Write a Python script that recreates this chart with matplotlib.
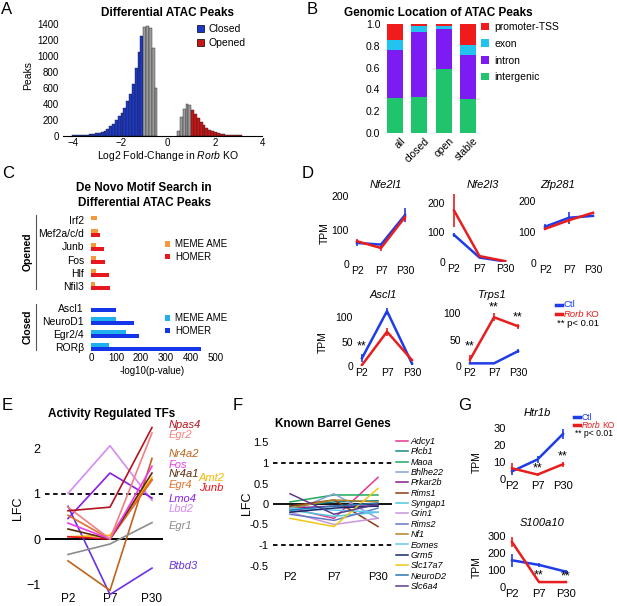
import matplotlib
matplotlib.use('Agg')
import matplotlib.pyplot as plt
from matplotlib.lines import Line2D
from matplotlib.patches import Patch
from matplotlib.transforms import ScaledTranslation
import numpy as np

plt.rcParams['font.family'] = ['Liberation Sans', 'DejaVu Sans']
plt.rcParams['mathtext.fontset'] = 'custom'
plt.rcParams['mathtext.rm'] = 'Liberation Sans'
plt.rcParams['mathtext.it'] = 'Liberation Sans:italic'
plt.rcParams['mathtext.bf'] = 'Liberation Sans:bold'

# ===================== DATA =====================
# A: histogram of log2 fold change
hist_bin = 0.12
closed_start = -4.04
closed_gray_from = -1.04
closed_counts = [2, 3, 4, 6, 8, 11, 15, 20, 26, 34, 46, 62, 85, 115, 150, 190, 240,
                 290, 350, 430, 520, 650, 850, 1050, 1260,
                 1370, 1380, 1350, 1100, 600]
opened_start = 0.40
opened_gray_until = 1.00
opened_counts = [60, 230, 340, 400, 380,
                 320, 270, 215, 170, 130, 100, 75, 55, 40, 28, 20, 14, 10, 7, 5, 3, 2, 1]

# B: genomic location fractions
locations = ['all', 'closed', 'open', 'stable']
frac_intergenic = [0.32, 0.327, 0.59, 0.315]
frac_intron = [0.445, 0.60, 0.367, 0.404]
frac_exon = [0.09, 0.052, 0.028, 0.085]
frac_promoter = [0.145, 0.021, 0.015, 0.196]

# C: motif search, -log10(p)
motifs_opened = ['Irf2', 'Mef2a/c/d', 'Junb', 'Fos', 'Hlf', 'Nfil3']
opened_meme = [24, 28, 21, 21, 21, 17]
opened_homer = [0, 37, 51, 57, 71, 77]
motifs_closed = ['Ascl1', 'NeuroD1', 'Egr2/4', 'RORβ']
closed_meme = [0, 101, 141, 72]
closed_homer = [101, 173, 192, 441]

# D / G: TPM time courses
stages = ['P2', 'P7', 'P30']
nfe2l1_ctl = [62, 57, 144]; nfe2l1_ctl_err = [9, 6, 20]
nfe2l1_ko = [67, 47, 138]; nfe2l1_ko_err = [6, 8, 12]
nfe2l3_ctl = [92, 15, 2]; nfe2l3_ctl_err = [8, 3, 1]
nfe2l3_ko = [175, 20, 3]; nfe2l3_ko_err = [57, 4, 1]
zfp281_ctl = [117, 146, 152]; zfp281_ctl_err = [8, 19, 4]
zfp281_ko = [110, 138, 162]; zfp281_ko_err = [5, 10, 4]
ascl1_ctl = [16, 112, 5]; ascl1_ctl_err = [8, 7, 2]
ascl1_ko = [2, 70, 12]; ascl1_ko_err = [2, 8, 2]
trps1_ctl = [5, 5, 28]; trps1_ctl_err = [1, 1, 4]
trps1_ko = [12, 92, 75]; trps1_ko_err = [8, 8, 5]
htr1b_ctl = [4.5, 11.5, 26.5]; htr1b_ctl_err = [2, 2, 3]
htr1b_ko = [6.3, 2.6, 8.7]; htr1b_ko_err = [3, 1, 1.5]
s100a10_ctl = [157, 130, 90]; s100a10_ctl_err = [40, 10, 12]
s100a10_ko = [265, 29, 29]; s100a10_ko_err = [30, 3, 3]
# significance marks: (stage index, value height)
ascl1_sig = [(0, 40)]
trps1_sig = [(0, 36), (1, 111), (2, 92)]
htr1b_sig = [(1, 6.5), (2, 13)]
s100a10_sig = [(1, 70), (2, 60)]

# E: activity-regulated TFs (LFC at P2, P7, P30)
tf_names = ['Lbd2', 'Lmo4', 'Btbd3', 'Nr4a2', 'Egr1', 'Amt2', 'Junb', 'Egr4',
            'Nr4a1', 'Fos', 'Egr2', 'Npas4']
tf_lfc = [
    [1.00, 2.05, 0.85],
    [0.45, 1.45, 0.90],
    [0.72, -1.22, -0.64],
    [-0.48, -1.13, 1.77],
    [-0.34, -0.11, 0.36],
    [0.05, 0.08, 1.35],
    [0.05, 0.00, 1.30],
    [0.52, 0.00, 1.30],
    [0.22, 0.00, 1.45],
    [0.35, 0.00, 1.60],
    [0.70, 0.00, 2.33],
    [0.62, 0.70, 2.45],
]

# F: known barrel genes (LFC at P2, P7, P30)
barrel_names = ['Adcy1', 'Plcb1', 'Maoa', 'Bhlhe22', 'Prkar2b', 'Rims1', 'Syngap1',
                'Grin1', 'Rims2', 'Nf1', 'Eomes', 'Grm5', 'Slc17a7', 'NeuroD2', 'Slc6a4']
barrel_lfc = [
    [-0.10, -0.35, 0.65],
    [-0.05, 0.05, 0.08],
    [0.05, 0.22, 0.22],
    [-0.20, 0.25, -0.35],
    [-0.10, -0.05, -0.05],
    [-0.05, 0.10, -0.55],
    [-0.15, -0.30, -0.20],
    [-0.20, -0.50, -0.35],
    [-0.25, -0.40, -0.10],
    [-0.10, 0.10, 0.05],
    [-0.10, -0.15, -0.20],
    [-0.20, -0.10, -0.05],
    [-0.35, -0.55, 0.38],
    [-0.15, -0.05, 0.02],
    [0.25, -0.25, 0.00],
]

# ===================== STYLE / LAYOUT =====================
W, H = 617, 606
fig = plt.figure(figsize=(W / 100, H / 100), dpi=100)
renderer = fig.canvas.get_renderer()

BLUE_A, RED_A, GRAY_A = '#1c38c8', '#cc1616', '#9c9c9c'
COL_PROM, COL_EXON, COL_INTRON, COL_INTER = '#f21b1b', '#22c3ee', '#7d1cf2', '#1fc46c'
MEME_O, HOMER_O, MEME_C, HOMER_C = '#f5993a', '#e8161e', '#20b0f0', '#1436e8'
CTL, KO = '#1e3ce8', '#e81e1e'
tf_colors = ['#d68af2', '#8a1ee6', '#6a32e6', '#c0621e', '#8c8c8c', '#f5b800',
             '#e8141e', '#e0722e', '#5a2d0c', '#ee3aee', '#f08080', '#b3131b']
tf_label_y = [0.66, 0.88, -0.59, 1.87, 0.29, 1.33, 1.13, 1.19, 1.43, 1.63, 2.29, 2.51]
tf_label_x = [2.4] * 5 + [3.12, 3.12] + [2.4] * 5
barrel_colors = ['#e8368c', '#168a8a', '#1eaa5a', '#8ca0dc', '#8c1a8c', '#8c3c14',
                 '#50c8dc', '#c896dc', '#6478c8', '#b48228', '#64c8f0', '#14286e',
                 '#f0c814', '#2878b4', '#5a3c8c']


def add_ax(box, xcal, ycal):
    x0, y0, x1, y1 = box
    ax = fig.add_axes([x0 / W, 1 - y1 / H, (x1 - x0) / W, (y1 - y0) / H])
    (va, pa), (vb, pb) = xcal
    s = (vb - va) / (pb - pa)
    ax.set_xlim(va + (x0 - pa) * s, va + (x1 - pa) * s)
    (va, pa), (vb, pb) = ycal
    s = (vb - va) / (pb - pa)
    ax.set_ylim(va + (y1 - pa) * s, va + (y0 - pa) * s)
    for sp in ax.spines.values():
        sp.set_visible(False)
    ax.tick_params(length=0)
    ax.patch.set_alpha(0)
    return ax


def ftext(x, y, s, **kw):
    kw.setdefault('ha', 'center')
    kw.setdefault('va', 'center')
    return fig.text(x / W, 1 - y / H, s, **kw)


def fline(xs, ys, **kw):
    fig.add_artist(Line2D([x / W for x in xs], [1 - y / H for y in ys], **kw))


# panel letters
for lab, (x, y) in {'A': (7, 9), 'B': (312, 9), 'C': (8, 173), 'D': (308, 173),
                    'E': (7, 405), 'F': (238, 405), 'G': (465, 405)}.items():
    ftext(x, y, lab, fontsize=12)

# ---------------- Panel A ----------------
axA = add_ax((63, 20, 262, 135.5), ((-2, 121), (2, 216)), ((0, 135.5), (1400, 24.5)))
cl = closed_start + hist_bin * np.arange(len(closed_counts))
axA.bar(cl, closed_counts, width=hist_bin, align='edge',
        color=[BLUE_A if e < closed_gray_from - 1e-9 else GRAY_A for e in cl],
        edgecolor='#222222', linewidth=0.3)
op = opened_start + hist_bin * np.arange(len(opened_counts))
axA.bar(op, opened_counts, width=hist_bin, align='edge',
        color=[GRAY_A if e < opened_gray_until - 1e-9 else RED_A for e in op],
        edgecolor='#222222', linewidth=0.3)
axA.spines['bottom'].set_visible(True)
axA.spines['bottom'].set_linewidth(0.8)
axA.set_yticks(range(0, 1401, 200))
axA.set_xticks([-4, -2, 0, 2, 4])
axA.tick_params(labelsize=7, pad=3)
axA.tick_params(axis='x', pad=2)
axA.legend(handles=[Patch(facecolor=BLUE_A, edgecolor='k', lw=0.5),
                    Patch(facecolor=RED_A, edgecolor='k', lw=0.5)],
           labels=['Closed', 'Opened'], loc='upper left',
           bbox_to_anchor=(197 / W, 1 - 24 / H), bbox_transform=fig.transFigure,
           frameon=False, fontsize=7.5, handlelength=0.7, handleheight=0.7,
           handletextpad=0.4, labelspacing=0.4, borderpad=0, borderaxespad=0)
ftext(168, 13, 'Differential ATAC Peaks', fontsize=8.5, fontweight='bold')
ftext(168, 156, r'Log2 Fold-Change in $\mathit{Rorb}$ KO', fontsize=7.5)
ftext(28, 75, 'Peaks', fontsize=7.5, rotation=90)

# ---------------- Panel B ----------------
axB = add_ax((383, 24, 480, 133), ((0, 395), (3, 468)), ((0, 133), (1, 24)))
xb = np.arange(len(locations))
bw = 0.66
b1 = axB.bar(xb, frac_intergenic, bw, color=COL_INTER)
bot = np.array(frac_intergenic)
b2 = axB.bar(xb, frac_intron, bw, bottom=bot, color=COL_INTRON)
bot = bot + np.array(frac_intron)
b3 = axB.bar(xb, frac_exon, bw, bottom=bot, color=COL_EXON)
bot = bot + np.array(frac_exon)
b4 = axB.bar(xb, frac_promoter, bw, bottom=bot, color=COL_PROM)
axB.set_yticks([0, 0.2, 0.4, 0.6, 0.8, 1.0])
axB.set_yticklabels(['0.0', '0.2', '0.4', '0.6', '0.8', '1.0'])
axB.set_xticks(xb)
axB.set_xticklabels(locations, rotation=45, ha='right', rotation_mode='anchor')
axB.tick_params(labelsize=7.5, pad=2)
for lbl in axB.get_xticklabels():
    lbl.set_transform(lbl.get_transform() + ScaledTranslation(0.05, 0, fig.dpi_scale_trans))
axB.legend(handles=[b4, b3, b2, b1], labels=['promoter-TSS', 'exon', 'intron', 'intergenic'],
           loc='upper left', bbox_to_anchor=(481 / W, 1 - 22 / H),
           bbox_transform=fig.transFigure, frameon=False, fontsize=7.5,
           handlelength=0.75, handleheight=0.75, handletextpad=0.5,
           labelspacing=0.65, borderpad=0, borderaxespad=0)
ftext(438, 13, 'Genomic Location of ATAC Peaks', fontsize=8.5, fontweight='bold')

# ---------------- Panel C ----------------
axCo = add_ax((91, 212, 220, 292), ((0, 91), (400, 191)), ((0, 220), (5, 286)))
axCc = add_ax((91, 300, 220, 352), ((0, 91), (400, 191)), ((0, 308), (3, 347)))
for ax, names, meme, homer, cm, ch in [(axCo, motifs_opened, opened_meme, opened_homer, MEME_O, HOMER_O),
                                       (axCc, motifs_closed, closed_meme, closed_homer, MEME_C, HOMER_C)]:
    y = np.arange(len(names))
    hm = ax.barh(y - 0.14, meme, height=0.3, color=cm)
    hh = ax.barh(y + 0.17, homer, height=0.3, color=ch)
    ax.set_yticks(y)
    ax.set_yticklabels(names)
    ax.tick_params(labelsize=7.5, pad=5)
    if ax is axCo:
        ax.set_xticks([])
        anchor = 250.5
    else:
        ax.set_xticks(range(0, 501, 100))
        ax.tick_params(axis='x', labelsize=7, pad=1)
        anchor = 324.5
    ax.legend(handles=[hm, hh], labels=['MEME AME', 'HOMER'], loc='center left',
              bbox_to_anchor=(165 / W, 1 - anchor / H), bbox_transform=fig.transFigure,
              frameon=False, fontsize=7, handlelength=0.55, handleheight=0.55,
              handletextpad=0.5, labelspacing=0.3, borderpad=0, borderaxespad=0)
ftext(144, 188, 'De Novo Motif Search in', fontsize=8.5, fontweight='bold')
ftext(144, 203, 'Differential ATAC Peaks', fontsize=8.5, fontweight='bold')
ftext(152, 371, '-log10(p-value)', fontsize=7)
ftext(28, 252, 'Opened', fontsize=7.5, fontweight='bold', rotation=90)
ftext(28, 327, 'Closed', fontsize=7.5, fontweight='bold', rotation=90)
fline([36, 36], [215, 289], color='#555555', lw=0.8)
fline([36, 36], [304, 350], color='#555555', lw=0.8)


# ---------------- Panels D & G (TPM) ----------------
def tpm_panel(box, xcal, ycal, ctl, ctl_e, ko, ko_e, yticks, title, txy, sig=(), ylab=None,
              fs=7.5, lw=1.8):
    ax = add_ax(box, xcal, ycal)
    x = np.arange(len(stages))
    ax.errorbar(x, ctl, yerr=ctl_e, color=CTL, lw=lw, elinewidth=1.2, capsize=0)
    ax.errorbar(x, ko, yerr=ko_e, color=KO, lw=lw, elinewidth=1.2, capsize=0)
    for i, v in sig:
        ax.text(x[i], v, '**', ha='center', va='center', fontsize=9, clip_on=False)
    ax.set_xticks(x)
    ax.set_xticklabels(stages)
    ax.set_yticks(yticks)
    ax.tick_params(labelsize=fs, pad=1.5)
    ftext(txy[0], txy[1], title, fontsize=8, style='italic')
    if ylab:
        ftext(ylab[0], ylab[1], 'TPM', fontsize=7.5, rotation=90)
    return ax


tpm_panel((351, 188, 412, 264), ((0, 357), (2, 405)), ((0, 264), (200, 196)),
          nfe2l1_ctl, nfe2l1_ctl_err, nfe2l1_ko, nfe2l1_ko_err, [0, 100, 200],
          'Nfe2l1', (386, 185), ylab=(325, 233))
tpm_panel((447, 190, 512, 262), ((0, 454), (2, 505)), ((0, 262), (200, 203)),
          nfe2l3_ctl, nfe2l3_ctl_err, nfe2l3_ko, nfe2l3_ko_err, [0, 100, 200],
          'Nfe2l3', (483, 185))
tpm_panel((538, 190, 600, 263), ((0, 545), (2, 593)), ((0, 263), (200, 201)),
          zfp281_ctl, zfp281_ctl_err, zfp281_ko, zfp281_ko_err, [0, 100, 200],
          'Zfp281', (558, 185))
tpm_panel((355, 300, 419, 366), ((0, 362), (2, 412)), ((0, 366), (100, 317)),
          ascl1_ctl, ascl1_ctl_err, ascl1_ko, ascl1_ko_err, [0, 50, 100],
          'Ascl1', (383, 295), sig=ascl1_sig, ylab=(323, 342))
tpm_panel((463, 300, 525, 366), ((0, 470), (2, 518)), ((0, 366), (100, 313)),
          trps1_ctl, trps1_ctl_err, trps1_ko, trps1_ko_err, [0, 50, 100],
          'Trps1', (492, 295), sig=trps1_sig)
tpm_panel((508, 418, 572, 479), ((0, 512), (2, 563)), ((0, 479), (30, 428)),
          htr1b_ctl, htr1b_ctl_err, htr1b_ko, htr1b_ko_err, [0, 10, 20, 30],
          'Htr1b', (537, 413), sig=htr1b_sig, ylab=(477, 462), fs=8)
tpm_panel((508, 528, 572, 587), ((0, 512), (2, 566)), ((0, 587), (300, 536)),
          s100a10_ctl, s100a10_ctl_err, s100a10_ko, s100a10_ko_err, [0, 100, 200, 300],
          'S100a10', (542, 523), sig=s100a10_sig, ylab=(477, 567), fs=8)


def ctl_ko_key(x, y, pitch, fs, pitch2):
    fline([x, x + 6], [y, y], color=CTL, lw=2.5)
    ftext(x + 8, y, 'Ctl', color=CTL, fontsize=fs, ha='left')
    fline([x, x + 6], [y + pitch, y + pitch], color=KO, lw=2.5)
    t = ftext(x + 8, y + pitch, 'Rorb', color=KO, fontsize=fs, style='italic', ha='left')
    bb = t.get_window_extent(renderer)
    ftext(bb.x1 + 1.2, y + pitch, 'KO', color=KO, fontsize=fs, ha='left')
    ftext(x + 1, y + pitch + pitch2, '** p< 0.01', fontsize=fs, ha='left')


ctl_ko_key(556, 304.5, 9.5, 6.8, 10)
ctl_ko_key(574, 417, 8.2, 6.2, 8.5)

# ---------------- Panel E ----------------
axE = add_ax((45, 418, 163, 596), ((0, 68), (2, 152)), ((0, 539), (2, 448)))
axE.axhline(0, color='k', lw=1.4)
axE.axhline(1, color='k', lw=1.3, dashes=(2.5, 2))
xE = np.arange(len(stages))
for name, vals, c, ly, lx in zip(tf_names, tf_lfc, tf_colors, tf_label_y, tf_label_x):
    axE.plot(xE, vals, color=c, lw=1.2)
    axE.text(lx, ly, name, color=c, fontsize=8, style='italic', va='center', ha='left',
             clip_on=False)
axE.set_xticks(xE)
axE.set_xticklabels(stages)
axE.set_yticks([-1, 0, 1, 2])
axE.tick_params(labelsize=9, pad=3.5)
axE.tick_params(axis='x', labelsize=8.5, pad=-2)
ftext(112, 414, 'Activity Regulated TFs', fontsize=8.5, fontweight='bold')
ftext(18, 508, 'LFC', fontsize=9, rotation=90)

# ---------------- Panel F ----------------
axF = add_ax((273, 438, 392, 568), ((0, 290), (2, 378)), ((0, 504), (1, 463)))
axF.axhline(0, color='k', lw=1.3)
axF.axhline(1, color='k', lw=1.3, dashes=(2.5, 2))
axF.axhline(-1, color='k', lw=1.3, dashes=(2.5, 2))
hF = []
for name, vals, c in zip(barrel_names, barrel_lfc, barrel_colors):
    hF.append(axF.plot(xE, vals, color=c, lw=1.1)[0])
axF.set_xticks(xE)
axF.set_xticklabels(stages)
axF.set_yticks([-1.5, -1, -0.5, 0, 0.5, 1, 1.5])
axF.set_yticklabels(['-0.5', '-1', '-0.5', '0', '0.5', '1', '1.5'])
axF.tick_params(labelsize=8, pad=3)
axF.legend(handles=hF, labels=barrel_names, loc='upper left',
           bbox_to_anchor=(396 / W, 1 - 437 / H), bbox_transform=fig.transFigure,
           frameon=False, prop={'size': 6.5, 'style': 'italic'}, handlelength=1.3,
           handletextpad=0.3, labelspacing=0.15, borderpad=0, borderaxespad=0)
ftext(333, 424, 'Known Barrel Genes', fontsize=8.5, fontweight='bold')
ftext(247, 503, 'LFC', fontsize=9, rotation=90)

fig.savefig('out.png', dpi=100)
